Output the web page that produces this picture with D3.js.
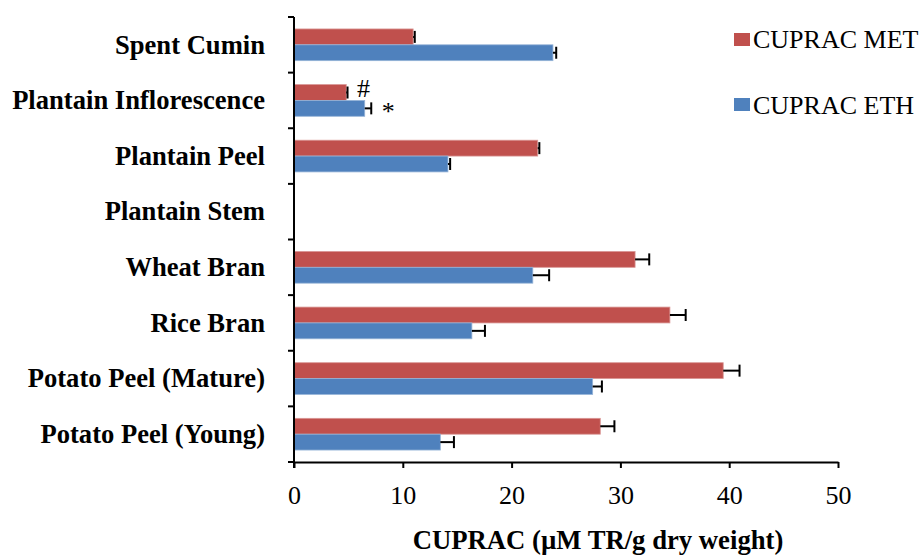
<!DOCTYPE html>
<html>
<head>
<meta charset="utf-8">
<script src="https://cdn.jsdelivr.net/npm/d3@7"></script>
<style>
  html, body { margin: 0; padding: 0; background: #fff; }
  svg { display: block; }
  text { font-family: "Liberation Serif", "Times New Roman", serif; fill: #000; }
</style>
</head>
<body>
<svg id="chart" width="924" height="557"></svg>
<script>
// Samples, listed top to bottom
const categories = [
  "Spent Cumin",
  "Plantain Inflorescence",
  "Plantain Peel",
  "Plantain Stem",
  "Wheat Bran",
  "Rice Bran",
  "Potato Peel (Mature)",
  "Potato Peel (Young)"
];
const seriesNames = ["CUPRAC MET", "CUPRAC ETH"];
const metValues = [10.95, 4.8, 22.4, 0, 31.35, 34.55, 39.45, 28.15];
const metErrors = [0.15, 0.12, 0.15, 0, 1.3, 1.45, 1.5, 1.3];
const ethValues = [23.8, 6.5, 14.15, 0, 21.95, 16.35, 27.45, 13.45];
const ethErrors = [0.3, 0.6, 0.2, 0, 1.5, 1.2, 0.85, 1.25];
const xTicks = [0, 10, 20, 30, 40, 50];
const xTitle = "CUPRAC (µM TR/g dry weight)";
// significance marks: [category, series, symbol]
const marks = [["Plantain Inflorescence", "CUPRAC MET", "#"], ["Plantain Inflorescence", "CUPRAC ETH", "*"]];

const colors = { "CUPRAC MET": "#C0504D", "CUPRAC ETH": "#4F81BD" };
const strokes = { "CUPRAC MET": "#D99694", "CUPRAC ETH": "#95B3D7" };

const svg = d3.select("#chart");
const plotLeft = 294, plotRight = 838, plotTop = 17, plotBottom = 462;

const x = d3.scaleLinear().domain([0, 50]).range([plotLeft, plotRight]);
const y = d3.scaleBand().domain(categories).range([plotTop, plotBottom]).paddingInner(0).paddingOuter(0);
const groupH = y.bandwidth() * 0.57;
const sub = d3.scaleBand().domain(seriesNames).range([0, groupH]);

const rows = [];
categories.forEach((c, i) => {
  rows.push({ cat: c, s: "CUPRAC MET", v: metValues[i], e: metErrors[i] });
  rows.push({ cat: c, s: "CUPRAC ETH", v: ethValues[i], e: ethErrors[i] });
});
const barY = d => y(d.cat) + (y.bandwidth() - groupH) / 2 + sub(d.s);

// bars
svg.append("g").selectAll("rect").data(rows).join("rect")
  .attr("x", x(0))
  .attr("y", d => barY(d))
  .attr("width", d => x(d.v) - x(0))
  .attr("height", sub.bandwidth())
  .attr("fill", d => colors[d.s])
  .attr("stroke", d => d.v > 0 ? strokes[d.s] : "none")
  .attr("stroke-width", 0.8);

// error bars (positive side)
const eb = svg.append("g").attr("stroke", "#000").attr("stroke-width", 2);
rows.forEach(d => {
  const cy = barY(d) + sub.bandwidth() / 2;
  eb.append("line").attr("x1", x(d.v)).attr("x2", x(d.v + d.e)).attr("y1", cy).attr("y2", cy);
  eb.append("line").attr("x1", x(d.v + d.e)).attr("x2", x(d.v + d.e)).attr("y1", cy - 6).attr("y2", cy + 6);
});

// significance symbols
marks.forEach(([c, s, sym]) => {
  const d = rows.find(r => r.cat === c && r.s === s);
  const cy = barY(d) + sub.bandwidth() / 2;
  svg.append("text")
    .attr("x", x(d.v + d.e) + (sym === "#" ? 16 : 17))
    .attr("y", cy + (sym === "#" ? 4 : 12))
    .attr("text-anchor", "middle")
    .style("font-size", "26px")
    .text(sym);
});

// x axis
const xAxis = d3.axisBottom(x).tickValues(xTicks).tickSize(6).tickSizeOuter(0);
const gx = svg.append("g").attr("transform", `translate(0,${plotBottom})`).call(xAxis);
gx.select(".domain").attr("stroke", "#000").attr("stroke-width", 2);
gx.selectAll(".tick line").attr("stroke", "#000").attr("stroke-width", 2);
gx.selectAll(".tick text")
  .attr("y", 24).attr("dy", "0.71em")
  .style("font-size", "26px")
  .style("font-family", "'Liberation Serif', 'Times New Roman', serif");

// y axis: ticks on category boundaries
const gy = svg.append("g");
gy.append("line").attr("x1", plotLeft).attr("x2", plotLeft).attr("y1", plotTop).attr("y2", plotBottom + 6)
  .attr("stroke", "#000").attr("stroke-width", 2);
const bounds = categories.map(c => y(c)).concat([plotBottom]);
gy.selectAll("line.tk").data(bounds).join("line").attr("class", "tk")
  .attr("x1", plotLeft - 6).attr("x2", plotLeft).attr("y1", d => d).attr("y2", d => d)
  .attr("stroke", "#000").attr("stroke-width", 2);
gy.selectAll("text").data(categories).join("text")
  .attr("x", 265)
  .attr("y", d => y(d) + y.bandwidth() / 2)
  .attr("dy", "0.33em")
  .attr("text-anchor", "end")
  .style("font-size", "26.6px")
  .style("font-weight", "bold")
  .text(d => d);

// x axis title
svg.append("text")
  .attr("x", 598).attr("y", 549)
  .attr("text-anchor", "middle")
  .style("font-size", "26.7px")
  .style("font-weight", "bold")
  .text(xTitle);

// legend
const lg = svg.append("g");
seriesNames.forEach((s, i) => {
  lg.append("rect").attr("x", 734).attr("y", 33 + i * 65).attr("width", 16).attr("height", 13).attr("fill", colors[s]);
  lg.append("text").attr("x", 753).attr("y", 47.5 + i * 66.5).style("font-size", "26px").text(s);
});
</script>
</body>
</html>
